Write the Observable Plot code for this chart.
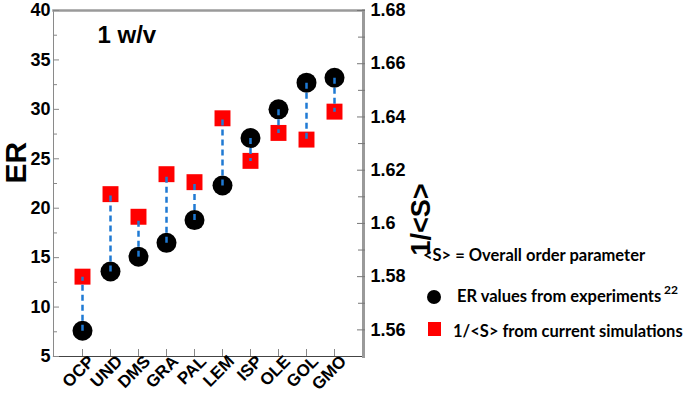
<!DOCTYPE html>
<html><head><meta charset="utf-8">
<script src="https://cdn.jsdelivr.net/npm/d3@7"></script>
<script src="https://cdn.jsdelivr.net/npm/@observablehq/plot@0.6"></script>
<style>
body{margin:0;background:#fff;}
#chart{width:685px;height:400px;}
</style></head><body><div id="chart"></div>
<script>
const categories = ["OCP","UND","DMS","GRA","PAL","LEM","ISP","OLE","GOL","GMO"];
const erValues = [7.6,13.6,15.1,16.5,18.8,22.3,27.1,30.0,32.7,33.2];
const invSValues = [1.580,1.611,1.6025,1.6185,1.6155,1.6395,1.6235,1.634,1.6315,1.642];
const leftTicks = [5,10,15,20,25,30,35,40];
const leftMinorTicks = [7.5,12.5,17.5,22.5,27.5,32.5,37.5];
const rightTicks = [1.56,1.58,1.6,1.62,1.64,1.66,1.68];
const rightMinorTicks = [1.57,1.59,1.61,1.63,1.65,1.67];
const leftDomain = [5,40];
const rightDomain = [1.55,1.68];
const titleText = "1 w/v";
const yLabel = "ER";
const y2Label = "1/<S>";
const legendNote = "<S> = Overall order parameter";
const legendER = "ER values from experiments";
const legendERRef = "22";
const legendS = "1/<S> from current simulations";

const toLeft = v => leftDomain[0] + (v - rightDomain[0]) / (rightDomain[1]-rightDomain[0]) * (leftDomain[1]-leftDomain[0]);
const fromLeft = v => rightDomain[0] + (v - leftDomain[0]) / (leftDomain[1]-leftDomain[0]) * (rightDomain[1]-rightDomain[0]);

const W=685,H=400,mL=53,mR=322,mT=10,mB=44;
const pw=W-mL-mR, ph=H-mT-mB;
const data = categories.map((c,i)=>({cat:c, er:erValues[i], s:invSValues[i], sl:toLeft(invSValues[i])}));
const font = "'Liberation Sans', Arial, Helvetica, sans-serif";

const plot = Plot.plot({
  width:W, height:H, marginLeft:mL, marginRight:mR, marginTop:mT, marginBottom:mB,
  style:{fontFamily:font, fontWeight:"bold", fontSize:"18px", color:"#000", background:"#fff", overflow:"visible"},
  x:{type:"point", domain:categories, padding:1},
  y:{domain:leftDomain},
  marks:[
    Plot.frame({anchor:"left", stroke:"#8a8a8a", strokeWidth:1}),
    Plot.frame({anchor:"top", stroke:"#9a9a9a", strokeWidth:2.5}),
    Plot.frame({anchor:"bottom", stroke:"#444", strokeWidth:1.2}),
    Plot.frame({anchor:"right", stroke:"#9a9a9a", strokeWidth:3}),
    Plot.tickY(leftTicks, {y:d=>d, stroke:"#888", insetRight:pw-6}),
    Plot.tickY(leftMinorTicks, {y:d=>d, stroke:"#888", insetRight:pw-4}),
    Plot.tickY(rightTicks.map(toLeft), {y:d=>d, stroke:"#777", insetLeft:pw-6, insetRight:-2}),
    Plot.tickY(rightMinorTicks.map(toLeft), {y:d=>d, stroke:"#777", insetLeft:pw-5, insetRight:-2}),
    Plot.tickX(categories, {x:d=>d, stroke:"#888", insetTop:ph-7}),
    Plot.axisY(leftTicks, {anchor:"left", tickSize:0, tickPadding:3, label:null, fontSize:18, fontWeight:"bold"}),
    Plot.axisY(rightTicks.map(toLeft), {anchor:"right", tickSize:0, tickPadding:7, label:null, fontSize:18, fontWeight:"bold",
      tickFormat:d=>String(+fromLeft(d).toFixed(2))}),
    Plot.axisX(categories, {anchor:"bottom", tickSize:0, tickPadding:2, tickRotate:-45, dx:9, label:null, fontSize:17, fontWeight:"bold"}),
    Plot.dot(data, {x:"cat", y:"er", r:10, fill:"#000", stroke:null}),
    Plot.dot(data, {x:"cat", y:"sl", r:9, symbol:"square", fill:"#ff0000", stroke:null}),
    Plot.link(data, {x1:"cat", x2:"cat", y1:"er", y2:"sl", stroke:"#1f7ad3", strokeWidth:2.5, strokeDasharray:"6,4"}),
    Plot.text([titleText], {frameAnchor:"top-left", dx:44, dy:15, text:d=>d, fontSize:24, fontWeight:"bold", textAnchor:"start", lineAnchor:"top"}),
    Plot.text([yLabel], {frameAnchor:"left", dx:-37, dy:0, text:d=>d, fontSize:30, fontWeight:"bold", rotate:-90, lineAnchor:"middle"}),
    Plot.text([y2Label], {frameAnchor:"right", dx:58, dy:0, text:d=>d, fontSize:27, fontWeight:"bold", rotate:-90, lineAnchor:"middle"})
  ]
});
document.getElementById("chart").appendChild(plot);

// legend
const svg = d3.select(plot);
const lf = "Lato, 'Open Sans', sans-serif";
const g = svg.append("g").attr("font-family", lf).attr("font-weight", "bold").attr("fill", "#000").attr("text-anchor","start");
g.append("text").attr("x",423).attr("y",261).attr("font-size",16.5).text(legendNote);
g.append("circle").attr("cx",434).attr("cy",297).attr("r",7).attr("fill","#000");
g.append("text").attr("x",457).attr("y",302).attr("font-size",16.5).text(legendER);
g.append("text").attr("x",664).attr("y",294).attr("font-size",12).text(legendERRef);
g.append("rect").attr("x",428).attr("y",322).attr("width",13).attr("height",14).attr("fill","#ff0000");
g.append("text").attr("x",453).attr("y",337).attr("font-size",16.5).text(legendS);
</script></body></html>
